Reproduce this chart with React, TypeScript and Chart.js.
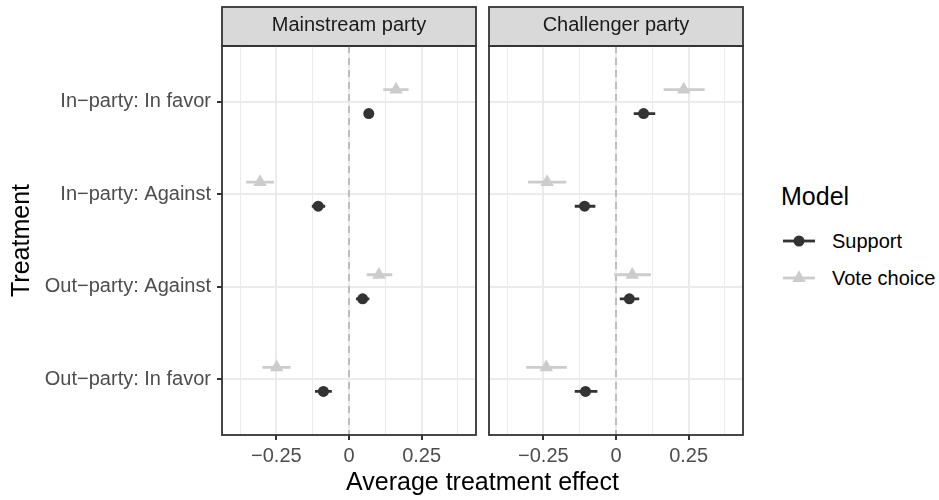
import React, { useEffect, useRef } from "react";
import { Chart, registerables } from "chart.js";

Chart.register(...registerables);

// ---- data ----
const treatments = [
  "In−party: In favor",
  "In−party: Against",
  "Out−party: Against",
  "Out−party: In favor",
];
const panelTitles = ["Mainstream party", "Challenger party"];
const modelNames = ["Support", "Vote choice"];

const mainstreamSupport = [0.068, -0.106, 0.047, -0.088];
const mainstreamSupportLow = [0.052, -0.128, 0.024, -0.117];
const mainstreamSupportHigh = [0.084, -0.082, 0.07, -0.059];
const mainstreamVote = [0.162, -0.306, 0.103, -0.249];
const mainstreamVoteLow = [0.118, -0.354, 0.061, -0.298];
const mainstreamVoteHigh = [0.205, -0.258, 0.149, -0.201];

const challengerSupport = [0.095, -0.108, 0.046, -0.105];
const challengerSupportLow = [0.061, -0.142, 0.013, -0.142];
const challengerSupportHigh = [0.135, -0.071, 0.08, -0.064];
const challengerVote = [0.233, -0.237, 0.056, -0.24];
const challengerVoteLow = [0.164, -0.303, -0.006, -0.309];
const challengerVoteHigh = [0.305, -0.171, 0.12, -0.169];

const xTickValues = [-0.25, 0, 0.25];
const xTickLabels = ["−0.25", "0", "0.25"];
const xMinorValues = [-0.375, -0.125, 0.125, 0.375];
const xLimits = [-0.437, 0.437];
const yLimits = [0.4, 4.6];
const dodge = 0.13;

// ---- styles ----
const FONT = '"Liberation Sans", Arial, Helvetica, sans-serif';
const SUPPORT_COLOR = "#333333";
const VOTE_COLOR = "#CCCCCC";
const GRID = "#EBEBEB";
const DARK = "#333333";

const isMajor = (v: number) => xTickValues.indexOf(v) >= 0;

const panelDecor = {
  id: "panelDecor",
  beforeDraw(chart: any) {
    const { ctx, chartArea: a } = chart;
    ctx.save();
    ctx.fillStyle = "#D9D9D9";
    ctx.fillRect(a.left, 7, a.right - a.left, a.top - 7);
    ctx.strokeStyle = DARK;
    ctx.lineWidth = 1.8;
    ctx.strokeRect(a.left, 7, a.right - a.left, a.top - 7);
    ctx.restore();
  },
  afterDraw(chart: any) {
    const { ctx, chartArea: a } = chart;
    ctx.save();
    ctx.strokeStyle = DARK;
    ctx.lineWidth = 1.8;
    ctx.strokeRect(a.left, a.top, a.right - a.left, a.bottom - a.top);
    ctx.restore();
  },
};

function whiskers(lo: number[], hi: number[], off: number) {
  const out: any[] = [];
  lo.forEach((l, i) => {
    out.push({ x: l, y: i + 1 + off });
    out.push({ x: hi[i], y: i + 1 + off });
    out.push({ x: null, y: null });
  });
  return out;
}
function points(est: number[], off: number) {
  return est.map((v, i) => ({ x: v, y: i + 1 + off }));
}

type PanelProps = {
  title: string;
  support: number[];
  supportLow: number[];
  supportHigh: number[];
  vote: number[];
  voteLow: number[];
  voteHigh: number[];
  showY: boolean;
  left: number;
  width: number;
  padLeft: number;
  padRight: number;
};

function Panel(p: PanelProps) {
  const ref = useRef<HTMLCanvasElement>(null);
  useEffect(() => {
    const chart = new Chart(ref.current as HTMLCanvasElement, {
      type: "line",
      data: {
        datasets: [
          {
            label: modelNames[0],
            data: points(p.support, dodge),
            showLine: false,
            pointStyle: "circle",
            pointRadius: 5.5,
            pointBorderWidth: 0,
            pointBackgroundColor: SUPPORT_COLOR,
            borderColor: SUPPORT_COLOR,
          },
          {
            label: modelNames[1],
            data: points(p.vote, -dodge),
            showLine: false,
            pointStyle: "triangle",
            pointRadius: 7.8,
            pointBorderWidth: 0,
            pointBackgroundColor: VOTE_COLOR,
            borderColor: VOTE_COLOR,
          },
          {
            label: modelNames[0] + " CI",
            data: whiskers(p.supportLow, p.supportHigh, dodge),
            borderColor: SUPPORT_COLOR,
            borderWidth: 2.8,
            pointRadius: 0,
            spanGaps: false,
          },
          {
            label: modelNames[1] + " CI",
            data: whiskers(p.voteLow, p.voteHigh, -dodge),
            borderColor: VOTE_COLOR,
            borderWidth: 2.8,
            pointRadius: 0,
            spanGaps: false,
          },
          {
            label: "zero",
            data: [
              { x: 0, y: yLimits[0] },
              { x: 0, y: yLimits[1] },
            ],
            borderColor: "#BEBEBE",
            borderWidth: 2,
            borderDash: [7, 5],
            pointRadius: 0,
          },
        ],
      },
      options: {
        animation: false,
        responsive: false,
        devicePixelRatio: 1,
        layout: { padding: { left: p.padLeft, right: p.padRight, top: 0, bottom: 0 } },
        plugins: {
          legend: { display: false },
          tooltip: { enabled: false },
          title: {
            display: true,
            fullSize: false,
            text: p.title,
            color: "#1A1A1A",
            font: { family: FONT, size: 20, weight: "normal" },
            padding: { top: 13, bottom: 9 },
          },
        },
        scales: {
          x: {
            type: "linear",
            min: xLimits[0],
            max: xLimits[1],
            afterBuildTicks: (s: any) => {
              s.ticks = [...xMinorValues, ...xTickValues]
                .sort((a, b) => a - b)
                .map((v) => ({ value: v }));
            },
            afterFit: (s: any) => {
              s.height = 65;
              s.paddingLeft = 0;
              s.paddingRight = 0;
            },
            ticks: {
              autoSkip: false,
              maxRotation: 0,
              minRotation: 0,
              padding: 4,
              color: "#4D4D4D",
              font: { family: FONT, size: 20 },
              callback: (v: any) => {
                const k = xTickValues.indexOf(v);
                return k >= 0 ? xTickLabels[k] : "";
              },
            },
            grid: {
              color: GRID,
              lineWidth: (c: any) => (c.tick && isMajor(c.tick.value) ? 2 : 1),
              tickColor: (c: any) => (c.tick && isMajor(c.tick.value) ? DARK : "rgba(0,0,0,0)"),
              tickLength: 5,
              tickWidth: 2,
            },
            border: { display: false },
          },
          y: {
            type: "linear",
            min: yLimits[0],
            max: yLimits[1],
            reverse: true,
            afterBuildTicks: (s: any) => {
              s.ticks = treatments.map((_, i) => ({ value: i + 1 }));
            },
            afterFit: (s: any) => {
              s.width = p.showY ? 222 : 0;
              s.paddingTop = 0;
              s.paddingBottom = 0;
            },
            ticks: {
              display: p.showY,
              autoSkip: false,
              padding: 6,
              color: "#4D4D4D",
              font: { family: FONT, size: 20 },
              callback: (v: any) => treatments[Math.round(v) - 1] ?? "",
            },
            grid: {
              color: GRID,
              lineWidth: 2,
              drawTicks: p.showY,
              tickLength: p.showY ? 5 : 0,
              tickColor: DARK,
              tickWidth: 2,
            },
            border: { display: false },
            title: {
              display: p.showY,
              text: "Treatment",
              color: "#000000",
              font: { family: FONT, size: 25 },
              padding: { top: 7, bottom: 0 },
            },
          },
        },
      } as any,
      plugins: [panelDecor],
    });
    return () => chart.destroy();
  }, []);
  return (
    <canvas
      ref={ref}
      width={p.width}
      height={500}
      style={{ position: "absolute", left: p.left, top: 0, width: p.width, height: 500 }}
    />
  );
}

function LegendSymbol({ kind }: { kind: number }) {
  const color = kind === 0 ? SUPPORT_COLOR : VOTE_COLOR;
  return (
    <svg width={34} height={20} style={{ position: "absolute", left: 0, top: 0 }}>
      <line x1={1} y1={10} x2={33} y2={10} stroke={color} strokeWidth={2.8} />
      {kind === 0 ? (
        <circle cx={17} cy={10} r={5.5} fill={color} />
      ) : (
        <polygon points={`17,${10 - 7.8} ${17 + 6.75},${10 + 3.9} ${17 - 6.75},${10 + 3.9}`} fill={color} />
      )}
    </svg>
  );
}

export default function App() {
  return (
    <div
      style={{
        position: "absolute",
        left: 0,
        top: 0,
        width: 939,
        height: 500,
        overflow: "hidden",
        background: "#FFFFFF",
        fontFamily: FONT,
      }}
    >
      <Panel
        title={panelTitles[0]}
        support={mainstreamSupport}
        supportLow={mainstreamSupportLow}
        supportHigh={mainstreamSupportHigh}
        vote={mainstreamVote}
        voteLow={mainstreamVoteLow}
        voteHigh={mainstreamVoteHigh}
        showY={true}
        left={0}
        width={484}
        padLeft={0}
        padRight={8}
      />
      <Panel
        title={panelTitles[1]}
        support={challengerSupport}
        supportLow={challengerSupportLow}
        supportHigh={challengerSupportHigh}
        vote={challengerVote}
        voteLow={challengerVoteLow}
        voteHigh={challengerVoteHigh}
        showY={false}
        left={481}
        width={270}
        padLeft={8}
        padRight={8}
      />
      <div
        style={{
          position: "absolute",
          left: 282.5,
          width: 400,
          top: 468.8,
          textAlign: "center",
          fontSize: 25,
          lineHeight: "25px",
          color: "#000",
          whiteSpace: "nowrap",
        }}
      >
        Average treatment effect
      </div>
      <div
        style={{ position: "absolute", left: 781, top: 183.8, fontSize: 25, lineHeight: "25px", color: "#000" }}
      >
        Model
      </div>
      {modelNames.map((m, i) => (
        <div key={m} style={{ position: "absolute", left: 782, top: 231 + i * 37.3, width: 157, height: 20 }}>
          <LegendSymbol kind={i} />
          <div
            style={{
              position: "absolute",
              left: 50,
              top: -2,
              fontSize: 20,
              lineHeight: "24px",
              color: "#000",
              whiteSpace: "nowrap",
            }}
          >
            {m}
          </div>
        </div>
      ))}
    </div>
  );
}
